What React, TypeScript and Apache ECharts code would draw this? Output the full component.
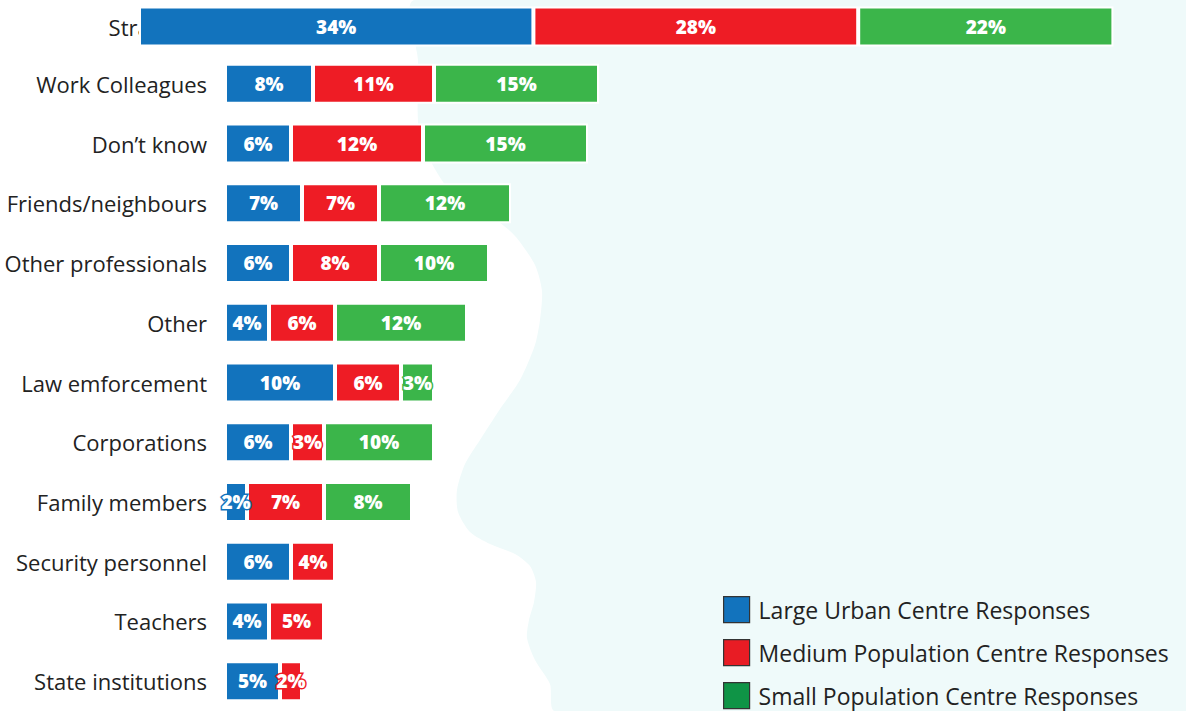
import React, { useEffect, useRef } from "react";
import * as echarts from "echarts";

const topCategory = ["Strangers"];
const categories = [
  "Work Colleagues",
  "Don’t know",
  "Friends/neighbours",
  "Other professionals",
  "Other",
  "Law emforcement",
  "Corporations",
  "Family members",
  "Security personnel",
  "Teachers",
  "State institutions",
];
const seriesNames = [
  "Large Urban Centre Responses",
  "Medium Population Centre Responses",
  "Small Population Centre Responses",
];
const topLarge = [34];
const topMedium = [28];
const topSmall = [22];
const largeUrban = [8, 6, 7, 6, 4, 10, 6, 2, 6, 4, 5];
const mediumPop = [11, 12, 7, 8, 6, 6, 3, 7, 4, 5, 2];
const smallPop: (number | string)[] = [15, 15, 12, 10, 12, 3, 10, 8, "-", "-", "-"];

const barColors = ["#1273bd", "#ee1c25", "#3bb54a"];
const legendColors = ["#1273bd", "#e81c24", "#0f9446"];

const bgShape: number[][] = [
  [415, 0], [418, 60], [420, 136], [450, 191], [490, 215], [515, 236], [535, 265],
  [542, 291], [540, 320], [535, 345], [520, 380], [500, 409], [480, 440], [465, 464],
  [457, 490], [458, 512], [470, 532], [490, 544], [515, 554], [530, 566], [536, 582],
  [534, 602], [529, 620], [527, 638], [535, 660], [550, 684], [555, 711],
  [1186, 711], [1186, 0],
];

export default function App() {
  const ref = useRef<HTMLDivElement>(null);
  useEffect(() => {
    if (!ref.current) return;
    const chart = echarts.init(ref.current, null, { renderer: "svg" });
    const mk = (i: number, data: any[], axis: number) => ({
      name: seriesNames[i],
      type: "bar",
      stack: axis === 0 ? "main" : "top",
      xAxisIndex: axis,
      yAxisIndex: axis,
      barWidth: 40,
      data,
      label: {
        show: true,
        position: "inside",
        formatter: "{c}%",
        color: "#fff",
        fontFamily: "Open Sans",
        fontWeight: 800,
        fontSize: 19,
        textBorderColor: barColors[i],
        textBorderWidth: 3,
      },
      itemStyle: { color: barColors[i], borderColor: "#fff", borderWidth: 2 },
      emphasis: { disabled: true },
    });
    const legends = seriesNames.map((n, i) => ({
      orient: "vertical",
      left: 723,
      top: 596 + i * 43,
      padding: 0,
      itemWidth: 26,
      itemHeight: 26,
      icon: "rect",
      textStyle: {
        fontFamily: "Open Sans",
        fontSize: 23,
        lineHeight: 26,
        color: "#222",
        padding: [0, 0, 0, 4],
      },
      data: [
        {
          name: n,
          itemStyle: { color: legendColors[i], borderColor: "#333", borderWidth: 1.2 },
        },
      ],
    }));
    chart.setOption({
      animation: false,
      backgroundColor: "#ffffff",
      graphic: {
        elements: [
          {
            type: "polygon",
            z: 0,
            silent: true,
            shape: { points: bgShape, smooth: 0.25 },
            style: { fill: "#effafa" },
          },
        ],
      },
      legend: legends,
      grid: [
        { left: 225, top: 54, width: 550, height: 669 },
        { left: 139, top: 6.5, width: 1044, height: 40 },
      ],
      xAxis: [
        { type: "value", gridIndex: 0, min: 0, max: 50, show: false },
        { type: "value", gridIndex: 1, min: 0, max: 90, show: false },
      ],
      yAxis: [
        {
          type: "category",
          gridIndex: 0,
          inverse: true,
          data: categories,
          axisLine: { show: false },
          axisTick: { show: false },
          axisLabel: { margin: 18, color: "#222", fontFamily: "Open Sans", fontSize: 22 },
        },
        {
          type: "category",
          gridIndex: 1,
          inverse: true,
          data: topCategory,
          axisLine: { show: false },
          axisTick: { show: false },
          axisLabel: { margin: -68, color: "#222", fontFamily: "Open Sans", fontSize: 22 },
        },
      ],
      series: [
        mk(0, largeUrban, 0),
        mk(1, mediumPop, 0),
        mk(2, smallPop, 0),
        mk(0, topLarge, 1),
        mk(1, topMedium, 1),
        mk(2, topSmall, 1),
      ],
    });
    return () => chart.dispose();
  }, []);
  return (
    <div
      ref={ref}
      style={{ position: "fixed", left: 0, top: 0, width: 1186, height: 711 }}
    />
  );
}
